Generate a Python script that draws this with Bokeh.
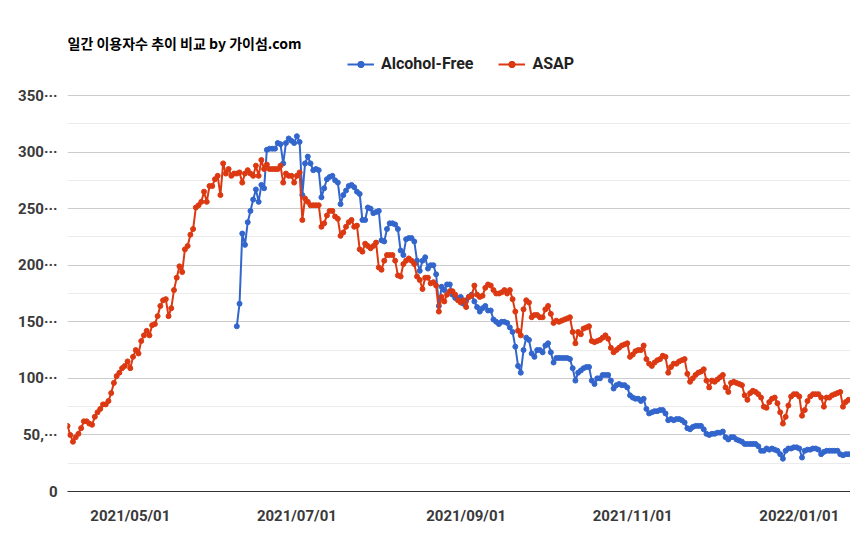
import pandas as pd
from bokeh.plotting import figure
from bokeh.models import Range1d, FixedTicker, DatetimeTickFormatter, Legend, LegendItem, Label, ColumnDataSource
from bokeh.embed import file_html
from bokeh.resources import INLINE

title_text = "일간 이용자수 추이 비교 by 가이섬.com"
series_names = ["Alcohol-Free", "ASAP"]
series_colors = ["#3366cc", "#dc3912"]

asap_start = "2021-04-08"
asap_values = [
    58, 50, 44, 48, 51, 56, 62, 62, 60, 59,
    66, 70, 73, 77, 77, 80, 87, 96, 102, 105,
    109, 111, 115, 109, 119, 125, 122, 133, 138, 142,
    138, 147, 148, 155, 164, 169, 170, 155, 162, 178,
    189, 199, 194, 214, 217, 227, 232, 251, 253, 256,
    265, 256, 270, 270, 276, 279, 262, 290, 281, 285,
    279, 281, 281, 282, 273, 281, 284, 281, 279, 288,
    279, 293, 285, 289, 285, 285, 285, 285, 288, 273,
    281, 279, 279, 273, 279, 282, 240, 259, 256, 253,
    253, 253, 253, 234, 237, 244, 248, 248, 243, 241,
    226, 229, 234, 238, 240, 234, 235, 214, 212, 219,
    217, 215, 217, 220, 198, 196, 204, 209, 209, 209,
    204, 191, 190, 201, 204, 206, 204, 201, 190, 187,
    179, 189, 189, 184, 185, 182, 159, 172, 168, 174,
    177, 177, 174, 169, 167, 169, 163, 172, 173, 182,
    174, 172, 173, 180, 183, 182, 178, 175, 175, 176,
    178, 175, 178, 170, 159, 142, 138, 161, 169, 167,
    154, 156, 156, 154, 154, 161, 164, 157, 149, 151,
    150, 151, 152, 153, 154, 141, 131, 141, 139, 144,
    145, 146, 133, 132, 133, 134, 136, 138, 135, 127,
    123, 125, 127, 129, 130, 131, 119, 121, 124, 125,
    125, 129, 117, 113, 111, 114, 116, 117, 120, 119,
    105, 110, 113, 113, 115, 116, 117, 104, 97, 100,
    103, 105, 106, 108, 98, 92, 98, 97, 99, 101,
    103, 92, 88, 96, 97, 96, 95, 94, 85, 81,
    87, 89, 88, 86, 83, 75, 74, 79, 82, 83,
    78, 70, 60, 66, 76, 84, 86, 86, 84, 67,
    72, 80, 84, 86, 86, 86, 83, 75, 83, 83,
    85, 86, 87, 88, 75, 79, 81,
]

af_start = "2021-06-09"
af_values = [
    146, 166, 228, 218, 238, 248, 258, 267,
    256, 271, 268, 302, 303, 303, 303, 308, 307, 290,
    308, 312, 310, 308, 314, 309, 262, 290, 296, 290,
    284, 285, 284, 260, 268, 276, 278, 279, 275, 273,
    254, 262, 266, 270, 271, 269, 265, 263, 240, 240,
    251, 250, 246, 247, 248, 222, 221, 232, 237, 237,
    236, 232, 213, 209, 223, 224, 224, 221, 204, 195,
    204, 207, 197, 200, 200, 192, 164, 181, 178, 183,
    183, 174, 171, 170, 172, 166, 169, 172, 174, 168,
    163, 159, 162, 164, 160, 160, 152, 150, 148, 150,
    150, 149, 145, 141, 128, 111, 105, 125, 136, 134,
    122, 119, 125, 125, 123, 129, 131, 123, 114, 118,
    118, 118, 118, 118, 117, 109, 98, 105, 107, 109,
    110, 110, 98, 95, 100, 100, 103, 103, 103, 98,
    91, 94, 95, 94, 94, 92, 85, 83, 82, 82,
    80, 82, 73, 69, 70, 71, 71, 72, 72, 69,
    63, 64, 63, 64, 64, 63, 61, 56, 55, 57,
    58, 58, 58, 55, 51, 50, 51, 51, 52, 52,
    53, 48, 46, 48, 48, 46, 45, 44, 42, 42,
    42, 42, 42, 40, 36, 36, 38, 37, 38, 37,
    36, 33, 29, 36, 38, 38, 39, 39, 38, 30,
    36, 37, 37, 38, 38, 37, 33, 35, 36, 36,
    36, 36, 36, 33, 32, 33, 33,
]

x_tick_dates = ["2021-05-01", "2021-07-01", "2021-09-01", "2021-11-01", "2022-01-01"]
y_ticks = [0, 50, 100, 150, 200, 250, 300, 350]
y_minor_ticks = [25, 75, 125, 175, 225, 275, 325]
y_tick_labels = ["0", "50,···", "100···", "150···", "200···", "250···", "300···", "350···"]

asap_src = ColumnDataSource(dict(
    x=pd.date_range(asap_start, periods=len(asap_values), freq="D"), y=asap_values))
af_src = ColumnDataSource(dict(
    x=pd.date_range(af_start, periods=len(af_values), freq="D"), y=af_values))

W, H = 850, 550
LEFT, BOTTOM = 67, 59
frame_h = H - BOTTOM          # value 0 at the frame bottom
px_per_unit = 396 / 350.0     # 350 gridline sits 396 px above the baseline

x0 = pd.Timestamp(asap_start)
x1 = x0 + pd.Timedelta(days=286.75)

p = figure(width=W, height=H, output_backend="svg", toolbar_location=None,
           x_axis_type="datetime",
           x_range=Range1d(x0, x1), y_range=Range1d(0, frame_h / px_per_unit),
           min_border_left=LEFT, min_border_right=0, min_border_top=0, min_border_bottom=BOTTOM)
p.outline_line_color = None
p.background_fill_color = "white"
p.border_fill_color = "white"

p.xgrid.grid_line_color = None
p.ygrid.grid_line_color = "#cccccc"
p.ygrid.minor_grid_line_color = "#ebebeb"
p.yaxis.ticker = FixedTicker(ticks=y_ticks, minor_ticks=y_minor_ticks)
p.ygrid.ticker = p.yaxis.ticker

p.yaxis.major_label_overrides = {t: l for t, l in zip(y_ticks, y_tick_labels)}
p.yaxis.axis_line_color = None
p.yaxis.major_tick_line_color = None
p.yaxis.minor_tick_line_color = None
p.yaxis.major_label_standoff = 4
p.yaxis.major_label_text_font = "Roboto"
p.yaxis.major_label_text_font_style = "bold"
p.yaxis.major_label_text_font_size = "15px"
p.yaxis.major_label_text_color = "#3a3a3a"

tick_ms = [pd.Timestamp(d).value / 1e6 for d in x_tick_dates]
p.xaxis.ticker = FixedTicker(ticks=tick_ms, minor_ticks=[])
p.xaxis.formatter = DatetimeTickFormatter(days="%Y/%m/%d", months="%Y/%m/%d", years="%Y/%m/%d")
p.xaxis.axis_line_color = "#333333"
p.xaxis.major_tick_line_color = None
p.xaxis.minor_tick_line_color = None
p.xaxis.major_label_standoff = 9
p.xaxis.major_label_text_font = "Roboto"
p.xaxis.major_label_text_font_style = "bold"
p.xaxis.major_label_text_font_size = "15px"
p.xaxis.major_label_text_color = "#3a3a3a"

renderers = []
for src, name, col in [(af_src, series_names[0], series_colors[0]),
                       (asap_src, series_names[1], series_colors[1])]:
    l = p.line("x", "y", source=src, line_color=col, line_width=2)
    s = p.scatter("x", "y", source=src, size=5, fill_color=col, line_color=col)
    renderers.append((name, [l, s]))

legend = Legend(items=[LegendItem(label=n, renderers=r) for n, r in renderers],
                orientation="horizontal", location=(280, 418),
                glyph_width=27, glyph_height=16, label_height=16,
                label_standoff=7, spacing=25, padding=0, margin=0,
                border_line_color=None, background_fill_alpha=0,
                label_text_font="Roboto", label_text_font_style="bold",
                label_text_font_size="16px", label_text_color="#222222")
p.add_layout(legend, "center")

title = Label(x=0, y=449, x_units="screen", y_units="screen", text=title_text,
              text_font="Noto Sans CJK KR", text_font_style="bold",
              text_font_size="14px", text_color="#000000", text_baseline="middle")
p.add_layout(title)

open("out.html", "w").write(file_html(p, INLINE))
